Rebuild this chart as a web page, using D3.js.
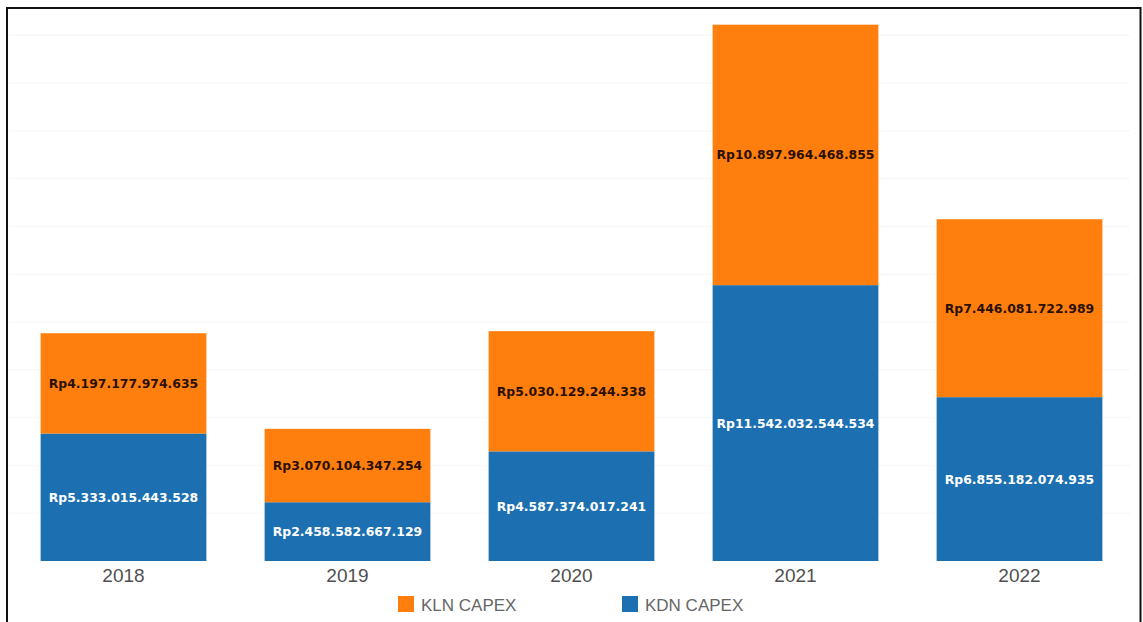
<!DOCTYPE html>
<html>
<head>
<meta charset="utf-8">
<script src="https://cdn.jsdelivr.net/npm/d3@7/dist/d3.min.js"></script>
<style>
  html, body { margin: 0; padding: 0; background: #fff; }
  svg { display: block; }
</style>
</head>
<body>
<svg id="chart" width="1143" height="622"></svg>
<script>
// Capital expenditure per year, split into KLN and KDN (Rupiah)
const years = ["2018", "2019", "2020", "2021", "2022"];
const klnCapex = [4197177974635, 3070104347254, 5030129244338, 10897964468855, 7446081722989];
const kdnCapex = [5333015443528, 2458582667129, 4587374017241, 11542032544534, 6855182074935];
const seriesNames = ["KLN CAPEX", "KDN CAPEX"];
const gridTicks = [2e12, 4e12, 6e12, 8e12, 10e12, 12e12, 14e12, 16e12, 18e12, 20e12, 22e12];

const colors = { kdn: "#1c70b1", kln: "#ff7f0e" };

const svg = d3.select("#chart");

// Indonesian number formatting: Rp + dot thousands separators
const idLocale = d3.formatLocale({ decimal: ",", thousands: ".", grouping: [3], currency: ["Rp", ""] });
const fmt = idLocale.format("$,.0f");

const x = d3.scaleBand().domain(years).range([11.5, 1131.5]).paddingInner(0.26).paddingOuter(0.13);
const y = d3.scaleLinear().domain([0, 23e12]).range([561, 561 - 23 * 23.9]);

// Very faint horizontal gridlines
svg.append("g").selectAll("line").data(gridTicks).join("line")
  .attr("x1", 9).attr("x2", 1130)
  .attr("y1", d => y(d)).attr("y2", d => y(d))
  .attr("stroke", "#f8f8f8").attr("stroke-width", 1.5);

// Stack: KDN at the bottom, KLN on top
const rows = years.map((yr, i) => ({ year: yr, kdn: kdnCapex[i], kln: klnCapex[i] }));
const stack = d3.stack().keys(["kdn", "kln"])(rows);

const layers = svg.append("g").selectAll("g").data(stack).join("g")
  .attr("fill", d => colors[d.key]);

layers.selectAll("rect").data(d => d).join("rect")
  .attr("x", d => x(d.data.year))
  .attr("width", x.bandwidth())
  .attr("y", d => y(d[1]))
  .attr("height", d => y(d[0]) - y(d[1]));

// Value labels centred in each segment
const labels = svg.append("g")
  .attr("font-family", "'DejaVu Sans', Verdana, sans-serif")
  .attr("font-weight", "bold")
  .attr("font-size", 12.4)
  .attr("text-anchor", "middle");

stack.forEach(layer => {
  labels.selectAll(null).data(layer).join("text")
    .attr("x", d => x(d.data.year) + x.bandwidth() / 2)
    .attr("y", d => (y(d[0]) + y(d[1])) / 2)
    .attr("dy", "0.36em")
    .attr("fill", layer.key === "kdn" ? "#ffffff" : "#2a1000")
    .text(d => fmt(d.data[layer.key]));
});

// Year axis labels
svg.append("g").selectAll("text").data(years).join("text")
  .attr("x", d => x(d) + x.bandwidth() / 2)
  .attr("y", 582)
  .attr("text-anchor", "middle")
  .attr("font-family", "'Liberation Sans', Arial, sans-serif")
  .attr("font-size", 19)
  .attr("fill", "#505050")
  .text(d => d);

// Legend
const legendItems = [
  { name: seriesNames[0], color: colors.kln, x: 398 },
  { name: seriesNames[1], color: colors.kdn, x: 622 }
];
const lg = svg.append("g").selectAll("g").data(legendItems).join("g")
  .attr("transform", d => `translate(${d.x},596)`);
lg.append("rect").attr("width", 16).attr("height", 16).attr("fill", d => d.color);
lg.append("text")
  .attr("x", 23).attr("y", 14.5)
  .attr("font-family", "'Liberation Sans', Arial, sans-serif")
  .attr("font-size", 17)
  .attr("fill", "#666")
  .text(d => d.name);

// Outer frame
svg.append("rect")
  .attr("x", 7).attr("y", 8).attr("width", 1133.5).attr("height", 700)
  .attr("fill", "none").attr("stroke", "#111").attr("stroke-width", 2);
</script>
</body>
</html>
